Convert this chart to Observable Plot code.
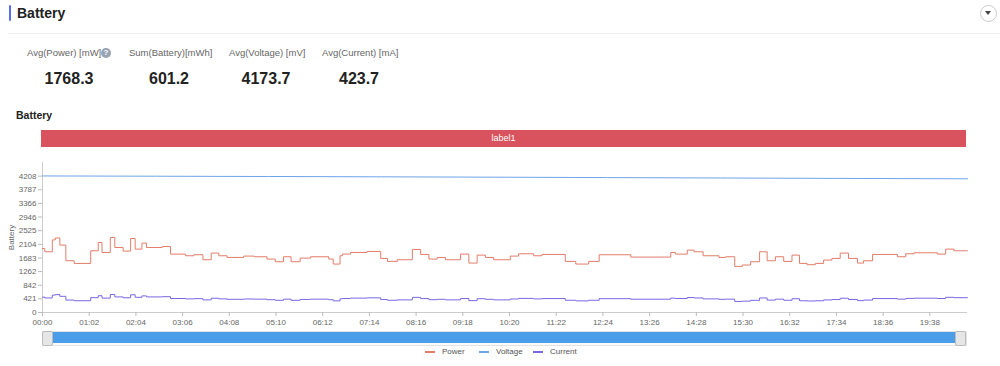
<!DOCTYPE html>
<html>
<head>
<meta charset="utf-8">
<script src="https://cdn.jsdelivr.net/npm/d3@7"></script>
<script src="https://cdn.jsdelivr.net/npm/@observablehq/plot@0.6"></script>
<style>
  html, body { margin: 0; padding: 0; background: #fff; }
  body { font-family: "Liberation Sans", Arial, Helvetica, sans-serif; }
  #page { position: relative; width: 1000px; height: 366px; overflow: hidden; background: #fff; }
  .abs { position: absolute; }
  .statLabel { font-size: 9.5px; color: #666; white-space: nowrap; }
  .statValue { font-size: 16px; font-weight: bold; color: #222; white-space: nowrap; transform: translateX(-50%); }
  #chart { position: absolute; left: 0; top: 150px; }
  .leg { position: absolute; top: 347px; font-size: 8px; color: #555; white-space: nowrap; }
  .leg span.sw { display: inline-block; width: 10px; height: 2px; vertical-align: middle; margin-right: 7px; }
</style>
</head>
<body>
<div id="page">
  <div class="abs" style="left:9px;top:5px;width:2px;height:16px;background:#5b6ef0;border-radius:1px"></div>
  <div class="abs" style="left:17px;top:5px;font-size:14px;font-weight:bold;color:#222">Battery</div>
  <div class="abs" style="left:980px;top:5px;width:15px;height:15px;border:1px solid #ccc;border-radius:50%"></div>
  <div class="abs" style="left:985px;top:11px;width:0;height:0;border-left:3.5px solid transparent;border-right:3.5px solid transparent;border-top:4px solid #444"></div>
  <div class="abs" style="left:8px;top:33px;width:992px;height:1px;background:#eee"></div>
  <div id="stats"></div>
  <div class="abs" style="left:16px;top:109px;font-size:10.5px;font-weight:bold;color:#222">Battery</div>
  <div class="abs" id="labelbar" style="left:41px;top:130px;width:925px;height:17px;background:#d9535e;color:#fff;font-size:9px;text-align:center;line-height:17px">label1</div>
  <div id="chart"></div>
  <div class="abs" style="left:42px;top:331px;width:923px;height:13px;background:#fafafa;border:1px solid #e3e3e3"></div>
  <div class="abs" style="left:47px;top:332px;width:912px;height:11px;background:#4a9de8"></div>
  <div class="abs" style="left:42px;top:331px;width:9px;height:13px;background:#e6e6e6;border:1px solid #bbb;border-radius:2px"></div>
  <div class="abs" style="left:955px;top:331px;width:9px;height:13px;background:#e6e6e6;border:1px solid #bbb;border-radius:2px"></div>
  <div id="legend"></div>
</div>
<script>
// ---- data ----
const statLabels = ["Avg(Power) [mW]", "Sum(Battery)[mWh]", "Avg(Voltage) [mV]", "Avg(Current) [mA]"];
const statValues = ["1768.3", "601.2", "4173.7", "423.7"];

const seriesNames = ["Power", "Voltage", "Current"];
const seriesColors = ["#e27d69", "#6ea4e8", "#7868e2"];

// time in minutes since 00:00
const stepTimes = [0,3,13,17,23,31,42,64,74,79,90,96,107,117,123,132,138,159,170,190,201,213,224,234,245,267,281,298,309,320,330,342,356,380,386,395,398,409,431,449,458,471,491,502,513,524,535,555,566,577,588,599,621,632,652,663,694,708,725,739,781,834,840,856,865,877,898,907,919,929,940,952,962,973,984,995,1005,1015,1026,1037,1048,1059,1070,1082,1090,1102,1135,1146,1157,1188,1199,1210,1228];
const powerValues = [1976,1874,2240,2300,2080,1597,1515,1905,2160,1853,2314,2006,1895,2283,1956,2141,2006,2037,1802,1751,1782,1628,1833,1751,1699,1741,1720,1649,1567,1720,1567,1679,1720,1649,1495,1751,1802,1853,1884,1669,1577,1628,1946,1792,1649,1699,1628,1802,1526,1771,1699,1628,1741,1812,1751,1792,1577,1495,1577,1782,1710,1853,1802,1925,1874,1751,1699,1720,1423,1465,1567,1874,1597,1720,1577,1771,1515,1475,1515,1618,1669,1833,1669,1526,1597,1792,1720,1812,1843,1802,1956,1905,1905];
const currentValues = [474,449,537,552,499,383,363,457,518,444,555,481,454,547,469,513,481,488,432,420,427,390,440,420,407,417,412,395,376,412,376,403,412,395,359,420,432,444,452,400,378,390,467,430,395,407,390,432,366,425,407,390,417,435,420,430,378,359,378,427,410,444,432,462,449,420,407,412,341,351,376,449,383,412,378,425,363,354,363,388,400,440,400,366,383,430,412,435,442,432,469,457,457];
const voltageTimes = [0,150,300,450,600,750,900,1050,1228];
const voltageValues = [4214,4206,4197,4187,4176,4163,4151,4139,4126];

const yTicks = [0,421,842,1262,1683,2104,2525,2946,3366,3787,4208];
const xTicks = [0,62,124,186,248,310,372,434,496,558,620,682,744,806,868,930,992,1054,1116,1178];

// ---- html parts ----
const labelX = [27, 129, 229, 322];
const valueX = [69, 169, 266, 359];
const stats = document.getElementById("stats");
statLabels.forEach((l, i) => {
  const a = document.createElement("div");
  a.className = "abs statLabel";
  a.style.left = labelX[i] + "px"; a.style.top = "47px";
  a.textContent = l;
  stats.appendChild(a);
  const b = document.createElement("div");
  b.className = "abs statValue";
  b.style.left = valueX[i] + "px"; b.style.top = "70px";
  b.textContent = statValues[i];
  stats.appendChild(b);
});
const q = document.createElement("div");
q.className = "abs";
q.style.cssText = "left:101px;top:48px;width:10px;height:10px;border-radius:50%;background:#9aa3b3;color:#fff;font-size:8px;line-height:10px;text-align:center;font-weight:bold";
q.textContent = "?";
stats.appendChild(q);

const legX = [425, 479, 533];
const legend = document.getElementById("legend");
seriesNames.forEach((n, i) => {
  const d = document.createElement("div");
  d.className = "leg";
  d.style.left = legX[i] + "px";
  d.innerHTML = `<span class="sw" style="background:${seriesColors[i]}"></span>${n}`;
  legend.appendChild(d);
});

// ---- chart ----
const stepData = stepTimes.map((t, i) => ({t, power: powerValues[i], current: currentValues[i]}));
const voltData = voltageTimes.map((t, i) => ({t, v: voltageValues[i]}));
const fmt = m => String(Math.floor(m / 60)).padStart(2, "0") + ":" + String(m % 60).padStart(2, "0");

const chart = Plot.plot({
  width: 1000,
  height: 185,
  marginLeft: 42,
  marginRight: 33,
  marginTop: 12,
  marginBottom: 23,
  style: {fontFamily: "'Liberation Sans', Arial, sans-serif", fontSize: "8px", color: "#666", background: "transparent"},
  x: {domain: [0, 1228]},
  y: {domain: [0, 4629]},
  marks: [
    Plot.ruleX([0], {stroke: "#ccc"}),
    Plot.ruleY([0], {stroke: "#ccc"}),
    Plot.axisY({ticks: yTicks, tickFormat: d => String(d), tickSize: 4, tickPadding: 2, stroke: "#bbb", fill: "#666", label: "Battery", labelAnchor: "center", labelArrow: "none", labelOffset: 34}),
    Plot.axisX({ticks: xTicks, tickFormat: fmt, tickSize: 4, tickPadding: 3, stroke: "#bbb", fill: "#666", label: null}),
    Plot.line(voltData, {x: "t", y: "v", stroke: seriesColors[1], strokeWidth: 1}),
    Plot.line(stepData, {x: "t", y: "power", stroke: seriesColors[0], strokeWidth: 1, curve: "step-after"}),
    Plot.line(stepData, {x: "t", y: "current", stroke: seriesColors[2], strokeWidth: 1, curve: "step-after"})
  ]
});
document.getElementById("chart").appendChild(chart);
</script>
</body>
</html>
